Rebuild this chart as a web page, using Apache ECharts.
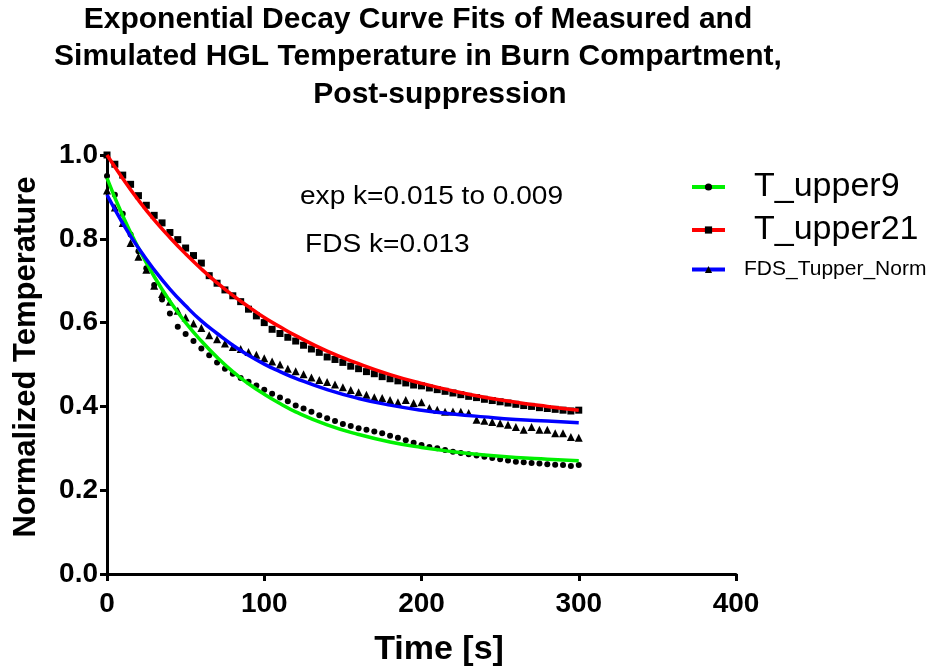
<!DOCTYPE html>
<html>
<head>
<meta charset="utf-8">
<script src="https://cdn.jsdelivr.net/npm/echarts@6/dist/echarts.min.js"></script>
<style>
html,body{margin:0;padding:0;background:#fff;}
#chart{width:949px;height:669px;}
</style>
</head>
<body>
<div id="chart"></div>
<script>
// ---- data ----
const titleLines = ['Exponential Decay Curve Fits of Measured and', 'Simulated HGL Temperature in Burn Compartment,', 'Post-suppression'];
const xTicks = [0, 100, 200, 300, 400];
const yTicks = [0.0, 0.2, 0.4, 0.6, 0.8, 1.0];
const seriesNames = ['T_upper9', 'T_upper21', 'FDS_Tupper_Norm'];
const annotations = ['exp k=0.015 to 0.009', 'FDS k=0.013'];

// measured / simulated points (time in s)
const times = [0,5,10,15,20,25,30,35,40,45,50,55,60,65,70,75,80,85,90,95,100,105,110,115,120,125,130,135,140,145,150,155,160,165,170,175,180,185,190,195,200,205,210,215,220,225,230,235,240,245,250,255,260,265,270,275,280,285,290,295,300];
const tUpper9 = [0.950,0.905,0.860,0.810,0.770,0.730,0.690,0.655,0.622,0.590,0.573,0.556,0.538,0.522,0.505,0.490,0.478,0.468,0.459,0.450,0.440,0.430,0.421,0.412,0.402,0.395,0.387,0.379,0.372,0.365,0.358,0.353,0.348,0.344,0.340,0.336,0.330,0.325,0.319,0.313,0.308,0.303,0.300,0.296,0.292,0.289,0.286,0.283,0.280,0.277,0.274,0.271,0.268,0.267,0.265,0.264,0.262,0.261,0.260,0.258,0.260];
const tUpper21 = [1.000,0.978,0.952,0.930,0.903,0.880,0.856,0.838,0.815,0.798,0.778,0.760,0.742,0.712,0.694,0.678,0.664,0.650,0.632,0.616,0.600,0.584,0.574,0.565,0.556,0.546,0.537,0.529,0.518,0.512,0.505,0.496,0.490,0.483,0.478,0.471,0.466,0.461,0.456,0.451,0.449,0.444,0.440,0.436,0.432,0.428,0.424,0.421,0.417,0.414,0.411,0.408,0.405,0.402,0.400,0.397,0.395,0.393,0.391,0.389,0.391];
const fdsNorm = [0.915,0.875,0.838,0.790,0.757,0.726,0.688,0.668,0.650,0.628,0.612,0.598,0.587,0.570,0.560,0.550,0.542,0.537,0.530,0.523,0.515,0.507,0.500,0.490,0.484,0.477,0.469,0.463,0.458,0.452,0.446,0.439,0.434,0.428,0.422,0.420,0.415,0.410,0.415,0.408,0.410,0.396,0.392,0.387,0.388,0.387,0.384,0.368,0.366,0.363,0.360,0.356,0.351,0.344,0.351,0.344,0.344,0.336,0.336,0.327,0.325];

// fitted decay curves
const fitTimes = [0,10,20,30,40,50,60,70,80,90,100,110,120,140,160,180,200,220,240,260,280,300];
const fit9 = [0.945,0.855,0.778,0.710,0.651,0.600,0.556,0.517,0.483,0.454,0.429,0.407,0.387,0.356,0.333,0.315,0.302,0.292,0.284,0.278,0.274,0.270];
const fit21 = [1.000,0.944,0.892,0.845,0.803,0.764,0.728,0.695,0.665,0.638,0.612,0.590,0.569,0.532,0.502,0.476,0.455,0.437,0.422,0.410,0.400,0.391];
const fitFds = [0.905,0.837,0.778,0.726,0.680,0.640,0.604,0.574,0.546,0.522,0.501,0.483,0.467,0.440,0.419,0.403,0.391,0.382,0.375,0.369,0.365,0.361];

// ---- build ----
const pairs = (xs, ys) => xs.map((x, i) => [x, ys[i]]);
const FONT = '"Liberation Sans", Arial, sans-serif';
const lineColors = ['#00f000', '#ff0000', '#0000ff'];
const symbols = ['circle', 'rect', 'triangle'];
const symSizes = [6, 7, 8];
const pts = [tUpper9, tUpper21, fdsNorm];
const fits = [fit9, fit21, fitFds];

const series = [];
for (let i = 0; i < 3; i++) {
  series.push({
    name: seriesNames[i] + ' data', type: 'scatter', data: pairs(times, pts[i]),
    symbol: symbols[i], symbolSize: symSizes[i], itemStyle: {color: '#000', opacity: 1}, z: 2, silent: true
  });
}
for (let i = 0; i < 3; i++) {
  series.push({
    name: seriesNames[i], type: 'line', data: pairs(fitTimes, fits[i]), smooth: true,
    showSymbol: false, symbol: symbols[i], symbolSize: 8,
    itemStyle: {color: '#000'}, lineStyle: {color: lineColors[i], width: 3.5}, z: 3
  });
}

const legendTops = [170, 213, 259];
const legendFonts = [34, 34, 21];
const legendPads = [24, 24, 14];
const legends = seriesNames.map((n, i) => ({
  data: [n], left: 690, top: legendTops[i], itemWidth: 33, itemHeight: 9, padding: 0,
  selectedMode: false,
  lineStyle: {width: 4, color: lineColors[i]},
  itemStyle: {color: '#000'},
  textStyle: {fontSize: legendFonts[i], color: '#000', fontFamily: FONT, padding: [0, 0, 0, legendPads[i]]}
}));

const chart = echarts.init(document.getElementById('chart'), null, {renderer: 'canvas'});
chart.setOption({
  animation: false,
  backgroundColor: '#fff',
  grid: {left: 107, right: 213, top: 155, bottom: 95, containLabel: false},
  xAxis: {
    type: 'value', min: xTicks[0], max: xTicks[xTicks.length - 1], interval: 100,
    axisLine: {lineStyle: {color: '#000', width: 3}},
    axisTick: {length: 7, lineStyle: {color: '#000', width: 3}},
    splitLine: {show: false},
    axisLabel: {fontSize: 28, fontWeight: 'bold', color: '#000', fontFamily: FONT, margin: 16}
  },
  yAxis: {
    type: 'value', min: yTicks[0], max: yTicks[yTicks.length - 1], interval: 0.2,
    axisLine: {lineStyle: {color: '#000', width: 3}},
    axisTick: {length: 7, lineStyle: {color: '#000', width: 3}},
    splitLine: {show: false},
    axisLabel: {fontSize: 28, fontWeight: 'bold', color: '#000', fontFamily: FONT, margin: 9,
      formatter: v => v.toFixed(1)}
  },
  legend: legends,
  series: series,
  graphic: [
    {type: 'text', x: 418, y: 20, style: {text: titleLines[0], font: 'bold 30px ' + FONT, fill: '#000', textAlign: 'center', textVerticalAlign: 'middle'}},
    {type: 'text', x: 418, y: 57, style: {text: titleLines[1], font: 'bold 30px ' + FONT, fill: '#000', textAlign: 'center', textVerticalAlign: 'middle'}},
    {type: 'text', x: 440, y: 95, style: {text: titleLines[2], font: 'bold 30px ' + FONT, fill: '#000', textAlign: 'center', textVerticalAlign: 'middle'}},
    {type: 'text', x: 439, y: 650, style: {text: 'Time [s]', font: 'bold 34px ' + FONT, fill: '#000', textAlign: 'center', textVerticalAlign: 'middle'}},
    {type: 'text', x: 26, y: 357, rotation: Math.PI / 2, style: {text: 'Normalized Temperature', font: 'bold 31px ' + FONT, fill: '#000', textAlign: 'center', textVerticalAlign: 'middle'}},
    {type: 'text', x: 300, y: 197, scaleX: 1.08, style: {text: annotations[0], font: '26px ' + FONT, fill: '#000', textAlign: 'left', textVerticalAlign: 'middle'}},
    {type: 'text', x: 305, y: 245, scaleX: 1.08, style: {text: annotations[1], font: '26px ' + FONT, fill: '#000', textAlign: 'left', textVerticalAlign: 'middle'}}
  ]
});
</script>
</body>
</html>
